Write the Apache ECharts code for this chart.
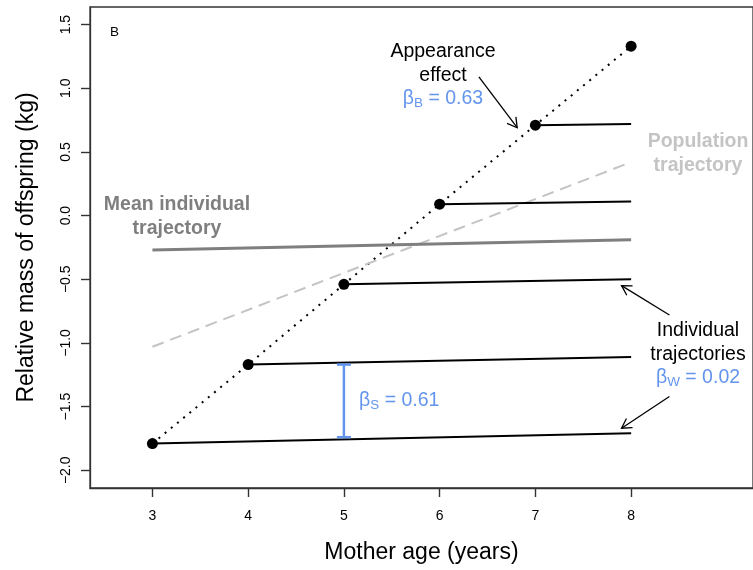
<!DOCTYPE html>
<html><head><meta charset="utf-8">
<script src="https://cdn.jsdelivr.net/npm/echarts@6/dist/echarts.min.js"></script>
<style>html,body{margin:0;padding:0;background:#fff}#c{width:753px;height:570px}</style>
</head><body><div id="c"></div>
<script>
// ---- data ----
const ages = [3, 4, 5, 6, 7, 8];
const firstMass = [-1.79, -1.17, -0.54, 0.09, 0.71, 1.33];
const endAge = 8;
const endMass = [-1.71, -1.11, -0.50, 0.11, 0.72];
const meanAges = [3, 8];
const meanTraj = [-0.27, -0.19];
const popAges = [3, 8];
const popTraj = [-1.03, 0.42];
const betaSAge = 5;
const betaSRange = [-1.74, -1.17];
const xTicks = [3, 4, 5, 6, 7, 8];
const yTicks = [-2.0, -1.5, -1.0, -0.5, 0.0, 0.5, 1.0, 1.5];
const arrowFrom = [[6.41, 1.09], [8.40, -0.78], [8.40, -1.42]];
const arrowTo = [[6.81, 0.69], [7.90, -0.55], [7.90, -1.67]];

const FONT = "'Liberation Sans', Arial, Helvetica, sans-serif";
const BLUE = '#6495ED';
const AX = '#333';
const chart = echarts.init(document.getElementById('c'), null, {renderer: 'canvas'});

const series = [];
series.push({
  type: 'line', data: ages.map((a, i) => [a, firstMass[i]]), symbol: 'none',
  lineStyle: {color: '#000', width: 2, type: [2, 6]}, z: 2, silent: true
});
series.push({
  type: 'line', data: popAges.map((a, i) => [a, popTraj[i]]), symbol: 'none',
  lineStyle: {color: '#c4c4c4', width: 2, type: [12, 7]}, z: 2, silent: true
});
series.push({
  type: 'line', data: meanAges.map((a, i) => [a, meanTraj[i]]), symbol: 'none',
  lineStyle: {color: '#7f7f7f', width: 3}, z: 3, silent: true
});
endMass.forEach((m, i) => {
  series.push({
    type: 'line', data: [[ages[i], firstMass[i]], [endAge, m]], symbol: 'none',
    lineStyle: {color: '#000', width: 2}, z: 4, silent: true
  });
});
series.push({
  type: 'scatter', data: ages.map((a, i) => [a, firstMass[i]]), symbolSize: 11,
  itemStyle: {color: '#000', opacity: 1}, z: 6, silent: true
});
// arrows
series.push({
  type: 'custom', z: 5, silent: true,
  data: arrowFrom.map((f, i) => [f[0], f[1], arrowTo[i][0], arrowTo[i][1]]),
  encode: {x: [0, 2], y: [1, 3]},
  renderItem: function (params, api) {
    const p1 = api.coord([api.value(0), api.value(1)]);
    const p2 = api.coord([api.value(2), api.value(3)]);
    const ang = Math.atan2(p2[1] - p1[1], p2[0] - p1[0]);
    const L = 11, a = Math.PI / 6;
    const h1 = [p2[0] - L * Math.cos(ang - a), p2[1] - L * Math.sin(ang - a)];
    const h2 = [p2[0] - L * Math.cos(ang + a), p2[1] - L * Math.sin(ang + a)];
    const st = {stroke: '#000', lineWidth: 1.3, fill: null};
    return {type: 'group', children: [
      {type: 'line', shape: {x1: p1[0], y1: p1[1], x2: p2[0], y2: p2[1]}, style: st},
      {type: 'polyline', shape: {points: [h1, p2, h2]}, style: st}
    ]};
  }
});
// beta_S bracket
series.push({
  type: 'custom', z: 5, silent: true,
  data: [[betaSAge, betaSRange[0], betaSRange[1]]],
  encode: {x: 0, y: [1, 2]},
  renderItem: function (params, api) {
    const lo = api.coord([api.value(0), api.value(1)]);
    const hi = api.coord([api.value(0), api.value(2)]);
    const w = 7;
    const st = {stroke: BLUE, lineWidth: 2.5};
    return {type: 'group', children: [
      {type: 'line', shape: {x1: lo[0], y1: lo[1], x2: hi[0], y2: hi[1]}, style: st},
      {type: 'line', shape: {x1: lo[0] - w, y1: lo[1], x2: lo[0] + w, y2: lo[1]}, style: st},
      {type: 'line', shape: {x1: hi[0] - w, y1: hi[1], x2: hi[0] + w, y2: hi[1]}, style: st}
    ]};
  }
});

const fmtY = v => (v < 0 ? '\u2212' : '') + Math.abs(v).toFixed(1);
const LH = 23.5;
const rich = {
  k: {fontFamily: FONT, fontSize: 19.5, lineHeight: LH, fill: '#000', color: '#000'},
  b: {fontFamily: FONT, fontSize: 19.5, lineHeight: LH, fill: BLUE, color: BLUE},
  s: {fontFamily: FONT, fontSize: 13.5, lineHeight: 16, verticalAlign: 'bottom', fill: BLUE, color: BLUE}
};

chart.setOption({
  animation: false,
  backgroundColor: '#fff',
  grid: {left: 90, top: 7, right: -6, bottom: 82, show: true, borderColor: AX, borderWidth: 1.3, containLabel: false},
  xAxis: {
    type: 'value', min: 2.348, max: 9.273,
    splitLine: {show: false}, axisLine: {show: true, onZero: false, lineStyle: {color: AX, width: 1.3}},
    axisTick: {show: true, customValues: xTicks, length: 9, lineStyle: {color: AX, width: 1.4}},
    axisLabel: {customValues: xTicks, fontSize: 14, fontFamily: FONT, color: '#000', margin: 21},
    name: 'Mother age (years)', nameLocation: 'middle', nameGap: 53,
    nameTextStyle: {fontSize: 23, fontFamily: FONT, color: '#000'}
  },
  yAxis: {
    type: 'value', min: -2.139, max: 1.638,
    splitLine: {show: false}, axisLine: {show: true, onZero: false, lineStyle: {color: AX, width: 1.3}},
    axisTick: {show: true, customValues: yTicks, length: 9, lineStyle: {color: AX, width: 1.4}},
    axisLabel: {customValues: yTicks, fontSize: 14, fontFamily: FONT, color: '#000', margin: 17, rotate: 90, formatter: fmtY},
    name: 'Relative mass of offspring (kg)', nameLocation: 'middle', nameGap: 52,
    nameTextStyle: {fontSize: 23, fontFamily: FONT, color: '#000'}
  },
  graphic: [
    {type: 'text', x: 110, y: 32, style: {text: 'B', font: '13.5px ' + FONT, fill: '#000', textVerticalAlign: 'middle'}},
    {type: 'text', x: 177, y: 205 - LH / 2, style: {text: 'Mean individual\ntrajectory', font: 'bold 19.5px ' + FONT, fill: '#7f7f7f', textAlign: 'center', textVerticalAlign: 'top', lineHeight: LH}},
    {type: 'text', x: 698, y: 142 - LH / 2, style: {text: 'Population\ntrajectory', font: 'bold 19.5px ' + FONT, fill: '#c4c4c4', textAlign: 'center', textVerticalAlign: 'top', lineHeight: LH}},
    {type: 'text', x: 443, y: 52 - LH / 2, style: {text: '{k|Appearance}\n{k|effect}\n{b|\u03B2}{s|B}{b| = 0.63}', rich: rich, textAlign: 'center', textVerticalAlign: 'top'}},
    {type: 'text', x: 698, y: 331 - LH / 2, style: {text: '{k|Individual}\n{k|trajectories}\n{b|\u03B2}{s|W}{b| = 0.02}', rich: rich, textAlign: 'center', textVerticalAlign: 'top'}},
    {type: 'text', x: 359, y: 401 - LH / 2, style: {text: '{b|\u03B2}{s|S}{b| = 0.61}', rich: rich, textAlign: 'left', textVerticalAlign: 'top'}}
  ],
  series: series
});
</script></body></html>
